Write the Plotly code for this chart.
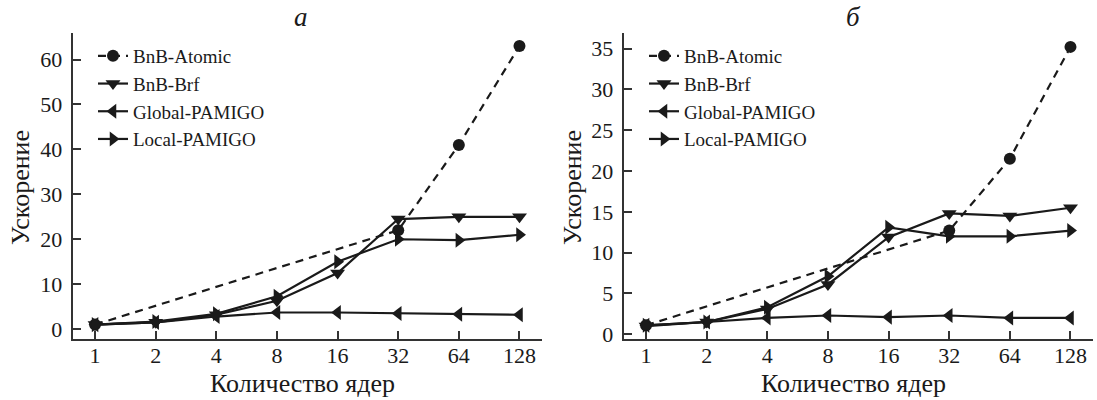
import plotly.graph_objects as go

# ---------------- data ----------------
cores = [1, 2, 4, 8, 16, 32, 64, 128]
atomic_cores = [1, 32, 64, 128]

# panel а
a_atomic = [1.0, 22.0, 41.0, 63.0]
a_brf = [1.0, 1.5, 3.2, 6.3, 12.5, 24.5, 25.0, 25.0]
a_global = [1.0, 1.5, 2.8, 3.7, 3.7, 3.5, 3.3, 3.2]
a_local = [1.0, 1.7, 3.4, 7.3, 15.0, 20.0, 19.8, 21.0]

# panel б
b_atomic = [1.1, 12.7, 21.5, 35.2]
b_brf = [1.0, 1.5, 3.1, 6.1, 11.9, 14.8, 14.5, 15.5]
b_global = [1.1, 1.5, 2.0, 2.3, 2.1, 2.3, 2.0, 2.0]
b_local = [1.1, 1.5, 3.3, 7.1, 13.1, 12.0, 12.0, 12.7]

series_names = ["BnB-Atomic", "BnB-Brf", "Global-PAMIGO", "Local-PAMIGO"]
panel_titles = ["а", "б"]
x_title = "Количество ядер"
y_title = "Ускорение"
a_yticks = [0, 10, 20, 30, 40, 50, 60]
b_yticks = [0, 5, 10, 15, 20, 25, 30, 35]

# ---------------- figure ----------------
W, H = 1097, 400
INK = "#1a1a1a"
FONT = "Liberation Serif"

fig = go.Figure()

def add_panel(xa, ya, legend, atomic, brf, glob, loc):
    common = dict(xaxis=xa, yaxis=ya, legend=legend, mode="lines+markers")
    fig.add_trace(go.Scatter(x=atomic_cores, y=atomic, name=series_names[0],
                             line=dict(color=INK, width=2.2, dash="8px,6px"),
                             marker=dict(symbol="circle", size=12, color=INK), **common))
    fig.add_trace(go.Scatter(x=cores, y=brf, name=series_names[1],
                             line=dict(color=INK, width=2.2),
                             marker=dict(symbol="triangle-down", size=13, color=INK), **common))
    fig.add_trace(go.Scatter(x=cores, y=glob, name=series_names[2],
                             line=dict(color=INK, width=2.2),
                             marker=dict(symbol="triangle-left", size=13, color=INK), **common))
    fig.add_trace(go.Scatter(x=cores, y=loc, name=series_names[3],
                             line=dict(color=INK, width=2.2),
                             marker=dict(symbol="triangle-right", size=13, color=INK), **common))

add_panel("x", "y", "legend", a_atomic, a_brf, a_global, a_local)
add_panel("x2", "y2", "legend2", b_atomic, b_brf, b_global, b_local)

def px_x(p):
    return p / W

def px_y(p):
    return 1 - p / H

xax = dict(type="log", range=[-0.111, 2.219], tickvals=cores, ticktext=[str(c) for c in cores],
           showline=True, linecolor="#333", linewidth=2, ticks="inside", ticklen=8, tickwidth=1.5,
           tickcolor="#333", showgrid=False, zeroline=False, ticklabelstandoff=-4,
           tickfont=dict(family=FONT, size=22, color=INK), automargin=False)
yax = dict(showline=True, linecolor="#333", linewidth=2, ticks="inside", ticklen=8, tickwidth=1.5,
           tickcolor="#333", showgrid=False, zeroline=False, ticklabelstandoff=4,
           tickfont=dict(family=FONT, size=22, color=INK), automargin=False)

leg = dict(xanchor="left", yanchor="top", bgcolor="rgba(0,0,0,0)",
           font=dict(family=FONT, size=19, color=INK), tracegroupgap=0, itemwidth=30)

fig.update_layout(
    width=W, height=H,
    margin=dict(l=0, r=0, t=0, b=0),
    paper_bgcolor="white", plot_bgcolor="white",
    xaxis=dict(xax, domain=[px_x(72.7), px_x(542)], anchor="y"),
    yaxis=dict(yax, domain=[px_y(339), px_y(33)], range=[-2.2, 65.9], tickvals=a_yticks, anchor="x"),
    xaxis2=dict(xax, domain=[px_x(623.7), px_x(1093)], anchor="y2"),
    yaxis2=dict(yax, domain=[px_y(339), px_y(33)], range=[-0.58, 36.9], tickvals=b_yticks, anchor="x2"),
    legend=dict(leg, x=px_x(93), y=px_y(37)),
    legend2=dict(leg, x=px_x(644), y=px_y(37)),
    showlegend=True,
)

ann = []
for cx, t in zip([301, 854], panel_titles):
    ann.append(dict(x=px_x(cx), y=px_y(17), xref="paper", yref="paper", text=f"<i>{t}</i>",
                    showarrow=False, xanchor="center", yanchor="middle",
                    font=dict(family=FONT, size=27, color=INK)))
for cx in [302, 854]:
    ann.append(dict(x=px_x(cx), y=px_y(383), xref="paper", yref="paper", text=x_title,
                    showarrow=False, xanchor="center", yanchor="middle",
                    font=dict(family=FONT, size=26, color=INK)))
for cx in [20, 572]:
    ann.append(dict(x=px_x(cx), y=px_y(188), xref="paper", yref="paper", text=y_title,
                    showarrow=False, xanchor="center", yanchor="middle", textangle=-90,
                    font=dict(family=FONT, size=26, color=INK)))
fig.update_layout(annotations=ann)

fig.write_html("out.html", config={"displayModeBar": False},
               post_script="document.body.style.margin='0';document.body.style.padding='0';")
